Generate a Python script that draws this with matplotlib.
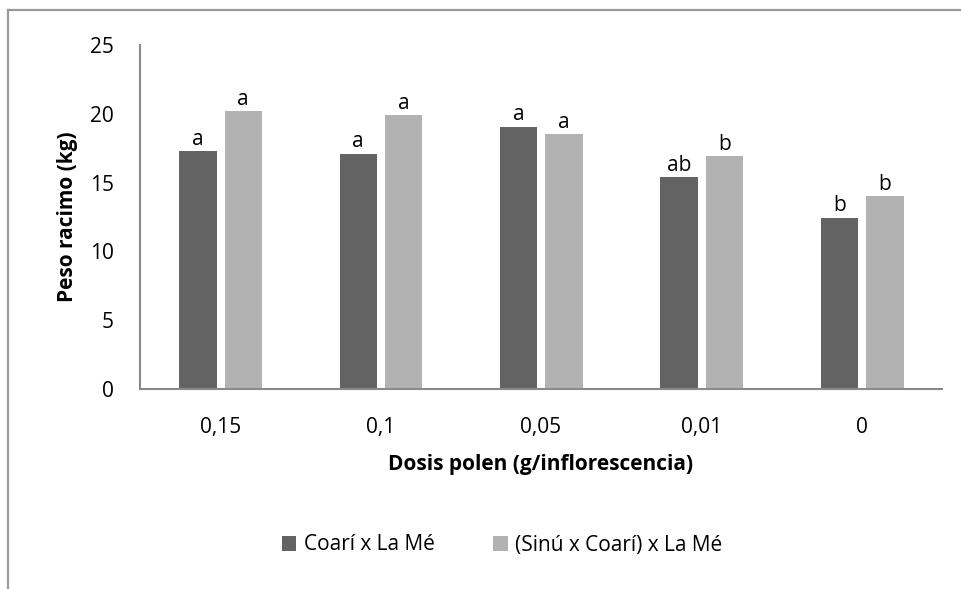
import numpy as np
import matplotlib.pyplot as plt
from matplotlib.lines import Line2D

plt.rcParams['font.family'] = ['Open Sans', 'DejaVu Sans']

dosis = ['0,15', '0,1', '0,05', '0,01', '0']
coari = [17.3, 17.1, 19.05, 15.4, 12.45]
sinu_coari = [20.2, 19.9, 18.5, 16.9, 14.0]
letras_coari = ['a', 'a', 'a', 'ab', 'b']
letras_sinu = ['a', 'a', 'a', 'b', 'b']
series = ['Coarí x La Mé', '(Sinú x Coarí) x La Mé']

fs = 15

fig = plt.figure(figsize=(9.61, 5.89), dpi=100)
ax = fig.add_axes([140/961, 1-389/589, 802/961, 344/589])

x = np.arange(len(dosis))
w = 0.232
b1 = ax.bar(x - 0.139, coari, w, color='#636363', label=series[0])
b2 = ax.bar(x + 0.144, sinu_coari, w, color='#b2b2b2', label=series[1])

for bars, letras in ((b1, letras_coari), (b2, letras_sinu)):
    for r, t in zip(bars, letras):
        ax.annotate(t, (r.get_x() + r.get_width()/2, r.get_height()),
                    xytext=(0, 1), textcoords='offset points',
                    ha='center', va='bottom', fontsize=fs)

ax.set_xlim(-0.5, 4.5)
ax.set_ylim(0, 25)
ax.set_yticks([0, 5, 10, 15, 20, 25])
ax.set_xticks(x)
ax.set_xticklabels(dosis)
ax.tick_params(length=0, labelsize=fs)
ax.tick_params(axis='x', pad=20)
ax.tick_params(axis='y', pad=19)
for s in ['top', 'right']:
    ax.spines[s].set_visible(False)
for s in ['left', 'bottom']:
    ax.spines[s].set_color('#898989')
    ax.spines[s].set_linewidth(1.5)

ax.set_ylabel('Peso racimo (kg)', fontsize=fs, fontweight='bold', labelpad=8)
ax.set_xlabel('Dosis polen (g/inflorescencia)', fontsize=fs, fontweight='bold', labelpad=12)

fig.legend(loc='center', bbox_to_anchor=(502/961, 1-545/589), ncol=2, frameon=False,
           fontsize=fs, handlelength=0.7, handleheight=0.7, handletextpad=0.35,
           columnspacing=2.8)

# marco exterior del grafico
fig.add_artist(Line2D([8/961, 1], [1-10/589, 1-10/589], color='#9a9a9a', lw=1.6))
fig.add_artist(Line2D([8/961, 8/961], [0, 1-10/589], color='#9a9a9a', lw=1.6))

fig.savefig('out.png', dpi=100)
